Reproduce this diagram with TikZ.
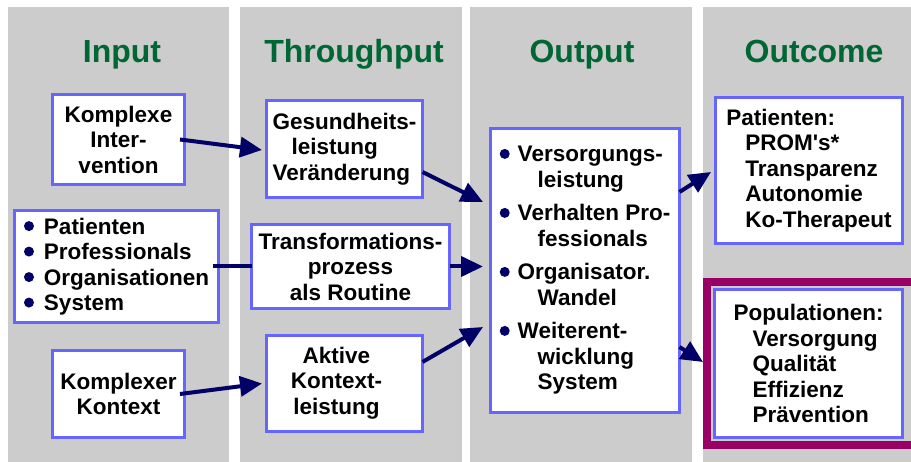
\documentclass[tikz,border=0pt]{standalone}
\usepackage{fontspec}
\setmainfont{Liberation Sans}
\usetikzlibrary{arrows.meta,calc}
\definecolor{panelgray}{HTML}{CCCCCC}
\definecolor{boxblue}{HTML}{6666FF}
\definecolor{navy}{HTML}{000066}
\definecolor{titlegreen}{HTML}{006633}
\definecolor{framemag}{HTML}{990066}
\newcommand{\bul}{\raisebox{3pt}{\tikz\fill[navy] (0,0) circle[radius=5pt];}}
\tikzset{
  box/.style={draw=boxblue, line width=3pt, fill=white, outer sep=0pt, inner sep=2pt,
    font=\fontsize{22.5}{25.5}\selectfont\bfseries},
  arr/.style={draw=navy, line width=4pt, -{Triangle[length=22pt,width=20pt]}},
  link/.style={draw=navy, line width=4pt},
  title/.style={font=\fontsize{32}{36}\selectfont\bfseries, text=titlegreen, anchor=base},
  panel/.style={fill=panelgray},
  magframe/.style={draw=framemag, line width=8pt},
}
\begin{document}
\begin{tikzpicture}[x=1pt,y=-1pt]
\clip (0,0) rectangle (911,462);
\fill[white] (0,0) rectangle (911,462);
% panels
\fill[panel] (8,7) rectangle (229,462);
\fill[panel] (240,7) rectangle (462,462);
\fill[panel] (470,7) rectangle (692,462);
\fill[panel] (703,7) rectangle (911,462);
% titles
\node[title] (tin) at (122,63) {Input};
\node[title] (tthr) at (354,63) {Throughput};
\node[title] (tout) at (582,63) {Output};
\node[title] (tocm) at (814,63) {Outcome};
% magenta frame
\draw[magframe] (707,282) rectangle (915,445);
% boxes
\node[box, minimum width=132, minimum height=90, align=center] (ki) at (118.5,139.5)
  {Komplexe\\Inter-\\vention};
\node[box, minimum width=156, minimum height=97, align=left] (gl) at (344.5,149)
  {Gesundheits-\\\hspace*{19pt}leistung\\Veränderung};
\node[box, minimum width=204, minimum height=112, align=left] (pat) at (116.5,266.5)
  {\bul\hspace{10pt}Patienten\\\bul\hspace{10pt}Professionals\\\bul\hspace{10pt}Organisationen\\\bul\hspace{10pt}System};
\node[box, minimum width=198, minimum height=84, align=center] (tr) at (350.5,266.5)
  {Transformations-\\prozess\\als Routine};
\node[box, minimum width=132, minimum height=87, align=center] (kk) at (118.5,394)
  {Komplexer\\Kontext};
\node[box, minimum width=156, minimum height=96] (ak) at (344.5,383.5)
  {\begin{tabular}{@{}c@{\hspace{16pt}}}Aktive\\Kontext-\\leistung\end{tabular}};
\node[box, minimum width=189, minimum height=284, align=left] (out) at (585,270.5)
  {\bul\hspace{8pt}Versorgungs-\\\hspace*{38pt}leistung\\[8pt]
   \bul\hspace{8pt}Verhalten Pro-\\\hspace*{38pt}fessionals\\[8pt]
   \bul\hspace{8pt}Organisator.\\\hspace*{38pt}Wandel\\[8pt]
   \bul\hspace{8pt}Weiterent-\\\hspace*{38pt}wicklung\\\hspace*{38pt}System};
\node[box, minimum width=187, minimum height=146, align=left] (pt2) at (809,170.5)
  {Patienten:\\\hspace*{19pt}PROM\textquotesingle s*\\\hspace*{19pt}Transparenz\\\hspace*{19pt}Autonomie\\\hspace*{19pt}Ko-Therapeut};
\node[box, minimum width=188, minimum height=148, align=left] (pop) at (808.5,363.5)
  {Populationen:\\\hspace*{19pt}Versorgung\\\hspace*{19pt}Qualität\\\hspace*{19pt}Effizienz\\\hspace*{19pt}Prävention};
% connectors
\draw[arr] ([xshift=-4.5pt]ki.east) -- ([xshift=-4.5pt,yshift=-1pt]gl.west);
\draw[arr] ([yshift=-23pt]gl.east) -- ([xshift=-7.5pt,yshift=68.5pt]out.west);
\draw[link] ([xshift=-6pt]pat.east) -- (tr.west);
\draw[arr] (tr.east) -- ($(tr.east -| out.west)+(-7.5,0)$);
\draw[arr] ([yshift=21.5pt]ak.east) -- ([xshift=-7.5pt,yshift=-56.5pt]out.west);
\draw[arr] ([xshift=-4.5pt]kk.east) -- ([xshift=-4.5pt]ak.west);
\draw[arr] ([yshift=78.5pt]out.east) -- ([xshift=-4.5pt,yshift=-1.5pt]pt2.west);
\draw[arr] ([yshift=-76.5pt]out.east) -- ([xshift=-11.5pt,yshift=1.5pt]pop.west);
\end{tikzpicture}
\end{document}
